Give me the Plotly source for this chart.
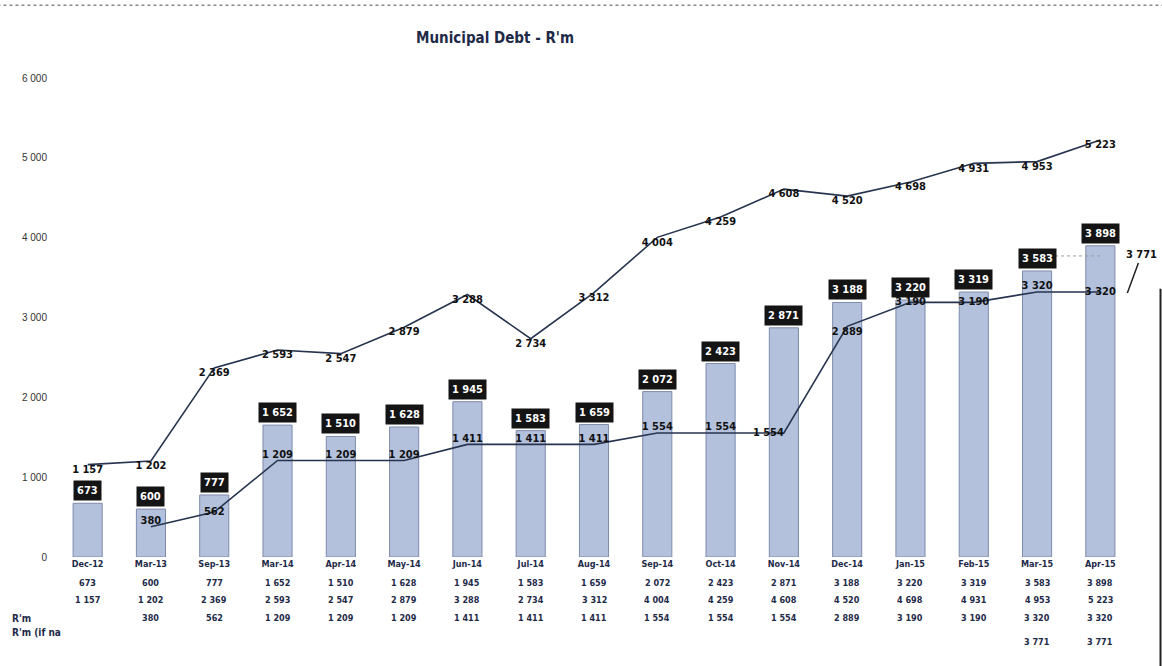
import plotly.graph_objects as go

# Municipal debt, R'm
months = ["Dec-12", "Mar-13", "Sep-13", "Mar-14", "Apr-14", "May-14", "Jun-14", "Jul-14",
          "Aug-14", "Sep-14", "Oct-14", "Nov-14", "Dec-14", "Jan-15", "Feb-15", "Mar-15", "Apr-15"]
debt_bars = [673, 600, 777, 1652, 1510, 1628, 1945, 1583, 1659, 2072, 2423, 2871,
             3188, 3220, 3319, 3583, 3898]
debt_upper = [1157, 1202, 2369, 2593, 2547, 2879, 3288, 2734, 3312, 4004, 4259, 4608,
              4520, 4698, 4931, 4953, 5223]
debt_lower = [None, 380, 562, 1209, 1209, 1209, 1411, 1411, 1411, 1554, 1554, 1554,
              2889, 3190, 3190, 3320, 3320]
debt_if_na = [None] * 15 + [3771, 3771]
row_labels = ["R'm", "R'm (if na"]
y_ticks = [0, 1000, 2000, 3000, 4000, 5000, 6000]

NUM_FONT = "Liberation Sans Narrow, DejaVu Sans Condensed, Arial Narrow, sans-serif"
LINE_COL = "#27344f"


def fmt(v):
    return "" if v is None else f"{v:,}".replace(",", " ")


def bold(v):
    return "" if v is None else f"<b>{fmt(v)}</b>"


fig = go.Figure()

fig.add_trace(go.Bar(
    x=months, y=debt_bars, width=0.46,
    marker=dict(color="#b4c1dc", line=dict(color="#7d8bab", width=1)),
    hoverinfo="x+y", showlegend=False,
))

fig.add_trace(go.Scatter(
    x=months, y=debt_upper, mode="lines+text",
    line=dict(color=LINE_COL, width=1.6),
    text=[bold(v) for v in debt_upper], textposition="bottom center",
    textfont=dict(family=NUM_FONT, size=11, color="#111111"),
    showlegend=False,
))

lower_pos = ["top center", "top center", "middle center", "top center", "top center",
             "top center", "top center", "top center", "top center", "top center",
             "top center", "middle left", "bottom center", "middle center", "middle center",
             "top center", "middle center"]
fig.add_trace(go.Scatter(
    x=months, y=debt_lower, mode="lines+text",
    line=dict(color=LINE_COL, width=1.6),
    text=[bold(v) for v in debt_lower], textposition=lower_pos,
    textfont=dict(family=NUM_FONT, size=11, color="#111111"),
    showlegend=False, connectgaps=False,
))

fig.add_trace(go.Scatter(
    x=months, y=debt_if_na, mode="lines",
    line=dict(color="#9a9a9a", width=1, dash="dot"),
    showlegend=False,
))

annotations = []
# value boxes above bars
for m, v in zip(months, debt_bars):
    annotations.append(dict(
        x=m, y=v, xref="x", yref="y", text=bold(v), showarrow=False,
        yanchor="bottom", yshift=2, bgcolor="#141414", borderpad=3,
        font=dict(family=NUM_FONT, size=11, color="white"),
    ))

# label for the "if na" figure with a short leader line
annotations.append(dict(
    x=months[-1], y=debt_if_na[-1], xref="x", yref="y", text=bold(debt_if_na[-1]),
    showarrow=True, arrowhead=0, arrowwidth=1.5, arrowcolor="#222222",
    ax=14, ay=-38, xshift=27, yshift=-37,
    font=dict(family=NUM_FONT, size=11, color="#111111"),
))

# data table under the axis
table_rows = [debt_bars, debt_upper, debt_lower, debt_if_na]
row_shift = [-26, -43, -61, -85]
for vals, ys in zip(table_rows, row_shift):
    for m, v in zip(months, vals):
        if v is None:
            continue
        annotations.append(dict(
            x=m, y=0, xref="x", yref="paper", yshift=ys, yanchor="middle",
            text=bold(v), showarrow=False,
            font=dict(family=NUM_FONT, size=9, color="#1e2a48"),
        ))

for lbl, ys in zip(row_labels, [-61, -75]):
    annotations.append(dict(
        x=-0.043, y=0, xref="paper", yref="paper", yshift=ys, xanchor="left",
        yanchor="middle", text=f"<b>{lbl}</b>", showarrow=False,
        font=dict(family=NUM_FONT, size=10, color="#1e2a48"),
    ))

shapes = [
    dict(type="line", xref="paper", yref="paper", x0=-0.06, x1=1.03, y0=1.152, y1=1.152,
         line=dict(color="#8a8a8a", width=1.5, dash="dot")),
    dict(type="line", xref="paper", yref="paper", x0=1.0265, x1=1.0265, y0=0.56, y1=-0.25,
         line=dict(color="#222222", width=2)),
]

fig.update_layout(
    width=1162, height=666,
    margin=dict(l=56, r=30, t=78, b=109),
    paper_bgcolor="white", plot_bgcolor="white",
    separators=". ",
    title=dict(
        text="<b>Municipal Debt - R'm</b>",
        x=0.408, xref="paper", xanchor="center",
        y=1 - 38 / 666, yref="container", yanchor="middle",
        font=dict(family=NUM_FONT, size=15, color="#1e2a48"),
    ),
    bargap=0.54,
    annotations=annotations,
    shapes=shapes,
)

fig.update_xaxes(
    type="category", range=[-0.5, len(months) - 0.5],
    showgrid=False, showline=False, zeroline=False, ticks="",
    tickfont=dict(family=NUM_FONT, size=9, color="#1e2a48", weight="bold"),
)
fig.update_yaxes(
    range=[0, 6000], tickvals=y_ticks, tickformat=",d",
    showgrid=False, showline=False, zeroline=False, ticks="",
    ticklabelstandoff=8,
    tickfont=dict(family="Liberation Sans, Arial, sans-serif", size=10, color="#333333"),
)

fig.write_html("out.html")
